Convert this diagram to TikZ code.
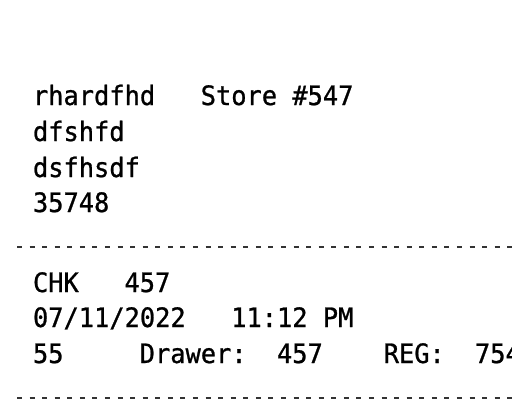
\documentclass[tikz,border=0pt]{standalone}
\usepackage{fontspec}
\newfontfamily\rcptfont[FakeStretch=0.95,FakeBold=0.9]{DejaVu Sans Mono}
\begin{document}
\begin{tikzpicture}[x=1pt,y=-1pt,
  rtxt/.style={anchor=base west,inner sep=0pt,outer sep=0pt,font=\rcptfont\fontsize{26.7}{30}\selectfont,text=black},
  sepline/.style={draw=black!80,line width=2.2pt,dash pattern=on 5pt off 7.57pt}]
\fill[white] (0,0) rectangle (512,400);
\useasboundingbox (0,0) rectangle (512,400);
% columns: x = 33 + col*15.25
\node[rtxt] (l1a) at (33,105) {rhardfhd};
\node[rtxt] (l1b) at (200.75,105) {Store \#547};
\node[rtxt] (l2) at (33,141) {dfshfd};
\node[rtxt] (l3) at (33,177) {dsfhsdf};
\node[rtxt] (l4) at (33,212) {35748};
\coordinate (d1a) at (17,247);
\coordinate (d1b) at (512,247);
\draw[sepline] (d1a) -- (d1b);
\node[rtxt] (c1a) at (33,292) {CHK};
\node[rtxt] (c1b) at (124.5,292) {457};
\node[rtxt] (c2a) at (33,327) {07/11/2022};
\node[rtxt] (c2b) at (231.25,327) {11:12 PM};
\node[rtxt] (c3a) at (33,363) {55};
\node[rtxt] (c3b) at (139.75,363) {Drawer:};
\node[rtxt] (c3c) at (277,363) {457};
\node[rtxt] (c3d) at (383.75,363) {REG:};
\node[rtxt] (c3e) at (475,363) {754};
\coordinate (d2a) at (17,398);
\coordinate (d2b) at (512,398);
\draw[sepline] (d2a) -- (d2b);
\end{tikzpicture}
\end{document}
